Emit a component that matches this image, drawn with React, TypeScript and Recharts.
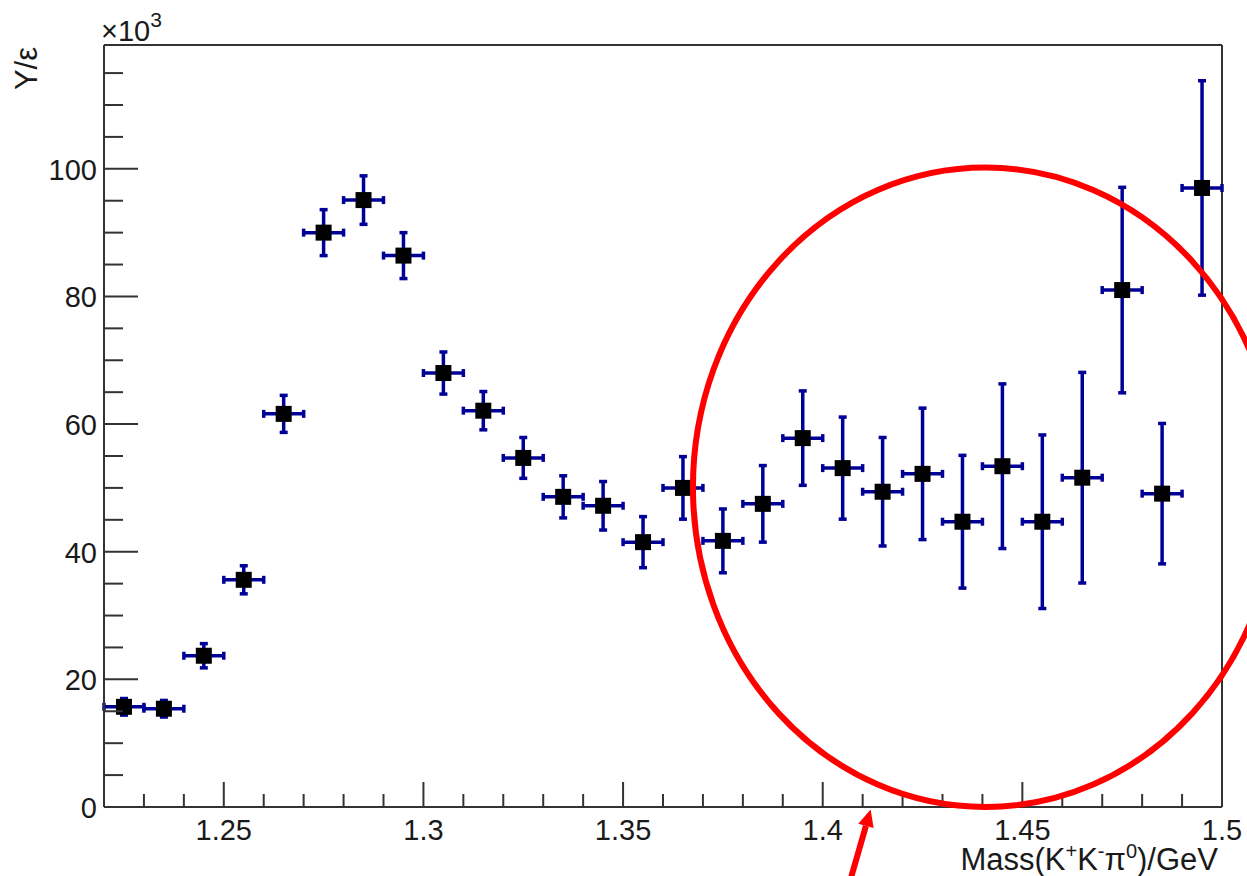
import React from 'react';
import {
  ScatterChart,
  Scatter,
  XAxis,
  YAxis,
  ErrorBar,
  ReferenceArea,
  ReferenceDot,
  ReferenceLine,
} from 'recharts';

// ---- data (yield in units of 10^3) ----
const MASS = [
  1.225, 1.235, 1.245, 1.255, 1.265, 1.275, 1.285, 1.295, 1.305, 1.315,
  1.325, 1.335, 1.345, 1.355, 1.365, 1.375, 1.385, 1.395, 1.405, 1.415,
  1.425, 1.435, 1.445, 1.455, 1.465, 1.475, 1.485, 1.495,
];
const YIELD = [
  15.7, 15.4, 23.7, 35.6, 61.6, 90.0, 95.1, 86.4, 68.0, 62.1,
  54.7, 48.6, 47.2, 41.5, 50.0, 41.7, 47.5, 57.8, 53.1, 49.4,
  52.2, 44.7, 53.4, 44.7, 51.6, 81.0, 49.1, 97.0,
];
const YIELD_ERR = [
  1.3, 1.3, 1.9, 2.2, 2.9, 3.6, 3.8, 3.6, 3.3, 3.0,
  3.2, 3.3, 3.8, 4.0, 4.9, 5.0, 6.0, 7.4, 8.0, 8.5,
  10.3, 10.4, 12.9, 13.6, 16.5, 16.1, 11.0, 16.8,
];
const BIN_HALF_WIDTH = 0.005;

const X_MAJOR = [1.25, 1.3, 1.35, 1.4, 1.45, 1.5];
const X_MINOR = [
  1.23, 1.24, 1.26, 1.27, 1.28, 1.29, 1.31, 1.32, 1.33, 1.34, 1.36, 1.37,
  1.38, 1.39, 1.41, 1.42, 1.43, 1.44, 1.46, 1.47, 1.48, 1.49,
];
const X_LABELS = ['1.25', '1.3', '1.35', '1.4', '1.45', '1.5'];
const Y_MAJOR = [0, 20, 40, 60, 80, 100];
const Y_MINOR = [5, 10, 15, 25, 30, 35, 45, 50, 55, 65, 70, 75, 85, 90, 95, 105, 110, 115];
const Y_LABELS = ['0', '20', '40', '60', '80', '100'];

const X_DOMAIN = [1.22, 1.5];
const Y_DOMAIN = [0, 119.4];

// annotation (data coordinates)
const ELLIPSE_X = [1.3675, 1.514];
const ELLIPSE_Y = [0, 100.2];
const ARROW_TIP = { x: 1.412, y: -0.4 };

const rows = MASS.map((m, i) => ({
  m,
  y: YIELD[i],
  ey: YIELD_ERR[i],
  ex: BIN_HALF_WIDTH,
}));

const FONT = '"Liberation Sans", Arial, Helvetica, sans-serif';
const AXIS_COLOR = '#333333';
const TEXT_COLOR = '#1a1a1a';
const BAR_COLOR = '#000096';

const near = (a: number, b: number) => Math.abs(a - b) < 1e-9;

const XTick = (props: any) => {
  const { x, y, payload } = props;
  const v = payload.value as number;
  const idx = X_MAJOR.findIndex((t) => near(t, v));
  const major = idx >= 0;
  return (
    <g>
      <line x1={x} x2={x} y1={y} y2={y - (major ? 25 : 13)} stroke={AXIS_COLOR} strokeWidth={2} />
      {major && (
        <text x={x} y={y + 33} textAnchor="middle" fontSize={29} fontFamily={FONT} fill={TEXT_COLOR}>
          {X_LABELS[idx]}
        </text>
      )}
    </g>
  );
};

const YTick = (props: any) => {
  const { x, y, payload } = props;
  const v = payload.value as number;
  const idx = Y_MAJOR.findIndex((t) => near(t, v));
  const major = idx >= 0;
  return (
    <g>
      <line x1={x} x2={x + (major ? 34 : 19)} y1={y} y2={y} stroke={AXIS_COLOR} strokeWidth={2} />
      {major && (
        <text x={x - 7} y={y + 11} textAnchor="end" fontSize={29} fontFamily={FONT} fill={TEXT_COLOR}>
          {Y_LABELS[idx]}
        </text>
      )}
    </g>
  );
};

const XTitle = (props: any) => {
  const vb = props.viewBox || {};
  const right = vb.x + vb.width - 4;
  const base = vb.y + 63;
  return (
    <text x={right} y={base} textAnchor="end" fontSize={31} fontFamily={FONT} fill={TEXT_COLOR}>
      Mass(K
      <tspan dy={-12} fontSize={20}>+</tspan>
      <tspan dy={12}>K</tspan>
      <tspan dy={-12} fontSize={20}>-</tspan>
      <tspan dy={12}>π</tspan>
      <tspan dy={-12} fontSize={20}>0</tspan>
      <tspan dy={12}>)/GeV</tspan>
    </text>
  );
};

const YTitle = (props: any) => {
  const vb = props.viewBox || {};
  const axisX = vb.x + vb.width;
  const top = vb.y;
  return (
    <g>
      <text
        transform={`translate(${37}, ${top + 2}) rotate(-90)`}
        textAnchor="end"
        fontSize={31}
        fontFamily={FONT}
        fill={TEXT_COLOR}
      >
        Y/ε
      </text>
      <text x={axisX - 3} y={top - 4} fontSize={29} fontFamily={FONT} fill={TEXT_COLOR}>
        ×10
        <tspan dy={-14} fontSize={21}>3</tspan>
      </text>
    </g>
  );
};

const SquareMarker = (props: any) => {
  const { cx, cy } = props;
  if (cx == null || cy == null) return <g />;
  return <rect x={cx - 8} y={cy - 8} width={16} height={16} fill="#000000" />;
};

const NoMarker = () => <g />;

const EllipseShape = (props: any) => {
  const { x, y, width, height } = props;
  return (
    <ellipse
      cx={x + width / 2}
      cy={y + height / 2}
      rx={Math.abs(width) / 2}
      ry={Math.abs(height) / 2}
      fill="none"
      stroke="#ff0000"
      strokeWidth={6}
    />
  );
};

const ArrowShape = (props: any) => {
  const { cx, cy } = props;
  if (cx == null || cy == null) return <g />;
  const ux = 0.2766;
  const uy = -0.961;
  const len = 90;
  const head = 17;
  const half = 8;
  const bx = cx - ux * head;
  const by = cy - uy * head;
  const px = -uy;
  const py = ux;
  return (
    <g>
      <line x1={cx - ux * len} y1={cy - uy * len} x2={bx} y2={by} stroke="#ff0000" strokeWidth={6} />
      <polygon
        points={`${cx},${cy} ${bx + px * half},${by + py * half} ${bx - px * half},${by - py * half}`}
        fill="#ff0000"
      />
    </g>
  );
};

export default function App() {
  return (
    <div style={{ position: 'absolute', left: 0, top: 0, width: 1247, height: 876, background: '#ffffff' }}>
      <ScatterChart
        width={1247}
        height={876}
        margin={{ top: 45, right: 25, bottom: 0, left: 0 }}
      >
        <XAxis
          type="number"
          dataKey="m"
          domain={X_DOMAIN}
          allowDataOverflow
          ticks={[...X_MINOR, ...X_MAJOR]}
          interval={0}
          tickSize={0}
          tickMargin={0}
          tickLine={false}
          tick={<XTick />}
          axisLine={{ stroke: AXIS_COLOR, strokeWidth: 2 }}
          height={69}
          label={{ content: <XTitle /> }}
        />
        <YAxis
          type="number"
          dataKey="y"
          domain={Y_DOMAIN}
          allowDataOverflow
          ticks={[...Y_MINOR, ...Y_MAJOR]}
          interval={0}
          tickSize={0}
          tickMargin={0}
          tickLine={false}
          tick={<YTick />}
          axisLine={{ stroke: AXIS_COLOR, strokeWidth: 2 }}
          width={104}
          label={{ content: <YTitle /> }}
        />
        <ReferenceLine y={Y_DOMAIN[1]} stroke={AXIS_COLOR} strokeWidth={2} />
        <ReferenceLine x={X_DOMAIN[1]} stroke={AXIS_COLOR} strokeWidth={2} />
        <Scatter data={rows} shape={<NoMarker />} isAnimationActive={false}>
          <ErrorBar dataKey="ey" direction="y" stroke={BAR_COLOR} strokeWidth={3.5} width={4} />
          <ErrorBar dataKey="ex" direction="x" stroke={BAR_COLOR} strokeWidth={3.5} width={4} />
        </Scatter>
        <Scatter data={rows} shape={<SquareMarker />} isAnimationActive={false} />
        <ReferenceArea
          x1={ELLIPSE_X[0]}
          x2={ELLIPSE_X[1]}
          y1={ELLIPSE_Y[0]}
          y2={ELLIPSE_Y[1]}
          ifOverflow="visible"
          shape={<EllipseShape />}
          zIndex={2000}
        />
        <ReferenceDot
          x={ARROW_TIP.x}
          y={ARROW_TIP.y}
          ifOverflow="visible"
          shape={<ArrowShape />}
          zIndex={2000}
        />
      </ScatterChart>
    </div>
  );
}
